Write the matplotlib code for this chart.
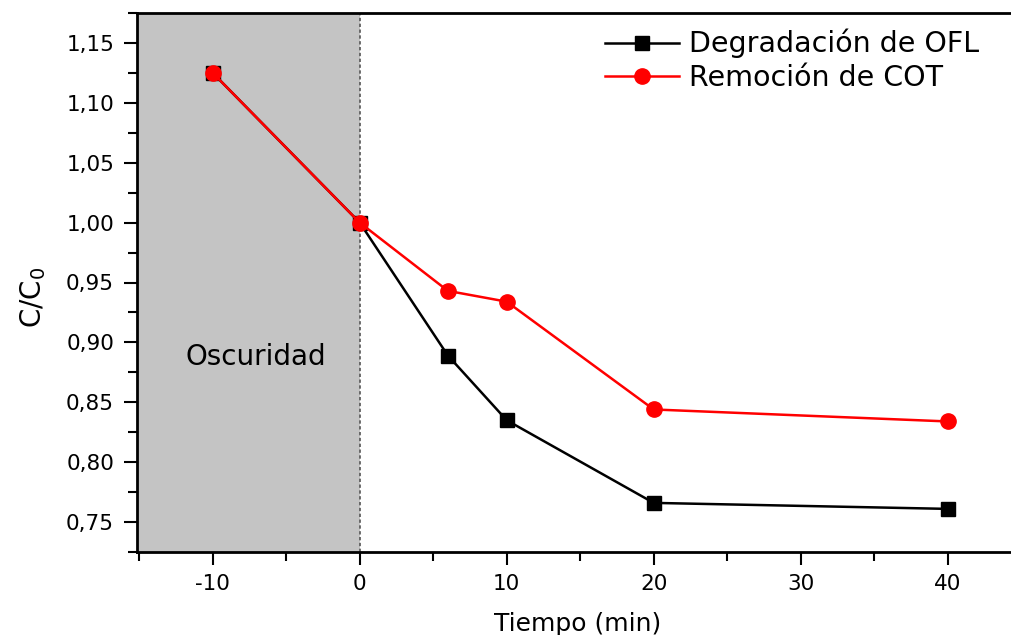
import matplotlib
matplotlib.use("Agg")
import matplotlib.pyplot as plt
from matplotlib.ticker import MultipleLocator, FixedLocator, FixedFormatter

plt.rcParams['font.family'] = ['DejaVu Sans']

time_min = [-10, 0, 6, 10, 20, 40]
ofl_degradation = [1.125, 1.000, 0.889, 0.835, 0.766, 0.761]
cot_removal = [1.125, 1.000, 0.943, 0.934, 0.844, 0.834]

x_ticks = [-10, 0, 10, 20, 30, 40]
x_tick_labels = ["-10", "0", "10", "20", "30", "40"]
y_ticks = [0.75, 0.80, 0.85, 0.90, 0.95, 1.00, 1.05, 1.10, 1.15]
y_tick_labels = ["0,75", "0,80", "0,85", "0,90", "0,95", "1,00", "1,05", "1,10", "1,15"]

fig = plt.figure(figsize=(10.12, 6.35), dpi=100)
ax = fig.add_axes([137/1012, 83/635, 882/1012, 539/635])

ax.set_xlim(-15.15, 44.85)
ax.set_ylim(0.725, 1.175)

ax.axvspan(-15.15, 0, color='#c4c4c4', zorder=0, lw=0)
ax.axvline(0, color='#555555', ls=(0, (2, 1.5)), lw=1.2, zorder=1)

ax.plot(time_min, ofl_degradation, color='black', marker='s', ms=10, lw=1.8,
        label='Degradación de OFL', zorder=3)
ax.plot(time_min, cot_removal, color='#ff0000', marker='o', ms=11, lw=1.8,
        label='Remoción de COT', zorder=4)

ax.text(-7.07, 0.888, 'Oscuridad', fontsize=20, ha='center', va='center')

ax.xaxis.set_major_locator(FixedLocator(x_ticks))
ax.xaxis.set_major_formatter(FixedFormatter(x_tick_labels))
ax.xaxis.set_minor_locator(MultipleLocator(5))
ax.yaxis.set_major_locator(FixedLocator(y_ticks))
ax.yaxis.set_major_formatter(FixedFormatter(y_tick_labels))
ax.yaxis.set_minor_locator(MultipleLocator(0.025))

ax.tick_params(which='major', direction='out', length=9.5, width=1.5, labelsize=15.5)
ax.tick_params(which='minor', direction='out', length=6.5, width=1.5)
ax.tick_params(axis='x', which='major', pad=6)
ax.tick_params(axis='y', which='major', pad=7)
ax.tick_params(top=False, right=False, which='both')

for s in ['left', 'bottom', 'top']:
    ax.spines[s].set_linewidth(2)
ax.spines['right'].set_visible(False)

ax.set_xlabel('Tiempo (min)', fontsize=18, labelpad=13)
ax.set_ylabel('C/C$_0$', fontsize=20)
ax.yaxis.set_label_coords((48 - 137) / 882, (552 - 297) / 539)

leg = ax.legend(loc='upper left', bbox_to_anchor=((605-137)/882, (552-29)/539),
                frameon=False, fontsize=20.5, handlelength=2.6, handletextpad=0.35,
                labelspacing=0.2, borderaxespad=0, borderpad=0)

fig.savefig('out.png', dpi=100)
